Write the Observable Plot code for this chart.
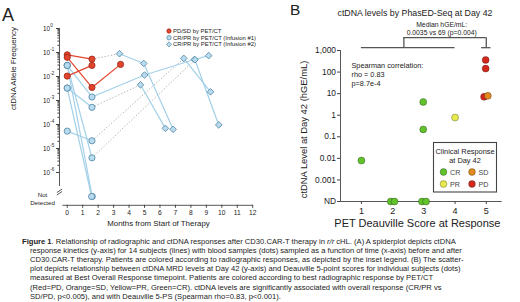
<!DOCTYPE html>
<html>
<head>
<meta charset="utf-8">
<script src="https://cdn.jsdelivr.net/npm/d3@7"></script>
<script src="https://cdn.jsdelivr.net/npm/@observablehq/plot@0.6"></script>
<style>
  html,body{margin:0;padding:0;background:#fff;}
  #fig{position:relative;width:520px;height:302px;overflow:hidden;background:#fff;}
  #fig > svg{position:absolute;}
</style>
</head>
<body>
<div id="fig"></div>
<script>
const FONT = '"Liberation Sans", Arial, Helvetica, sans-serif';

// ---------------- Panel A data ----------------
const ND_A = 1e-7;
const monthTicks = [0,1,2,3,4,5,6,7,8,9,10,11,12];
const afTicks = [1, 1e-1, 1e-2, 1e-3, 1e-4, 1e-5, 1e-6];
const afExponents = ["0","-1","-2","-3","-4","-5","-6"];
const ndLabelA = ["Not", "Detected"];

// infusion #1 (circles)
const inf1Resp = ["PD/SD","PD/SD","PD/SD","CR/PR","CR/PR","CR/PR","CR/PR","CR/PR","CR/PR"];
const inf1Months = [[0,1.6],[0,1.6,3.45],[0,1.6],[0,1.6],[0,1.6],[0,1.6],[0,1.6],[0,1.62],[0,1.58]];
const inf1AF = [
  [0.080, 0.053],
  [0.063, 0.0035, 0.032],
  [0.0104, 0.029],
  [0.029, 0.0014],
  [0.0033, 0.00052],
  [5.3e-5, 2.1e-5],
  [0.029, 4.1e-6],
  [0.029, ND_A],
  [0.0033, ND_A]
];
// infusion #2 (diamonds), each following an infusion #1 series
const inf2After  = [0, 3, 4, 5, 6];
const inf2Bridge = ["dotted","solid","dotted","dotted","dotted"];
const inf2Months = [[3.38,4.95,6.85],[5.0,8.23,9.15],[4.74,6.35],[7.54,9.27],[8.26,9.8]];
const inf2AF = [[0.089,0.035,6.3e-5],[0.0115,0.051,0.074],[0.0045,6.9e-5],[0.057,0.0023],[0.05,9.6e-5]];

const legendA = ["PD/SD by PET/CT","CR/PR by PET/CT (Infusion #1)","CR/PR by PET/CT (Infusion #2)"];

// ---------------- Panel B data ----------------
const ND_B = 1e-4;
const levelTicks  = [1000,100,10,1,0.1,0.01,0.001,ND_B];
const levelLabels = ["1,000","100","10","1","0.1","0.01","0.001","ND"];
const scoreTicks = [1,2,3,4,5];
const ptScore = [1, 1.94, 2.06, 2.94, 3.07, 2.98, 2.98, 4, 4.93, 4.98, 4.98, 5.05];
const ptLevel = [0.0079, ND_B, ND_B, ND_B, ND_B, 4.1, 0.22, 0.78, 7.1, 366, 145, 7.9];
const ptResp  = ["CR","CR","CR","CR","CR","CR","CR","PR","PD","PD","PD","SD"];
const respNames = ["CR","PR","SD","PD"];
const respFill  = ["#62c22c","#e6ea4a","#e08a1f","#d3291c"];
const bracketSpan = [1, 4];
const bracketStem = 2.36;
const bracketEnd = 5;
const bracketCap = [4.85, 5.15];
const bracketLow = 1350, bracketHigh = 3950;
const spearmanLines = ["Spearman correlation:","rho = 0.83","p=8.7e-4"];
const medianLines = ["Median hGE/mL:","0.0035 vs 69 (p=0.004)"];
const yTitleB = "ctDNA Level at Day 42 (hGE/mL)";

const captionLines = [
  "response kinetics (y-axis) for 14 subjects (lines) with blood samples (dots) sampled as a function of time (x-axis) before and after",
  "CD30.CAR-T therapy. Patients are colored according to radiographic responses, as depicted by the inset legend. (B) The scatter-",
  "plot depicts relationship between ctDNA MRD levels at Day 42 (y-axis) and Deauville 5-point scores for individual subjects (dots)",
  "measured at Best Overall Response timepoint. Patients are colored according to best radiographic response by PET/CT",
  "(Red=PD, Orange=SD, Yellow=PR, Green=CR). ctDNA levels are significantly associated with overall response (CR/PR vs",
  "SD/PD, p<0.005), and with Deauville 5-PS (Spearman rho=0.83, p<0.001)."
];

// ---------------- colours ----------------
const RED = "#e2452e", RED_S = "#9a2414";
const BLUE_L = "#a3d0e8", BLUE_F = "#b8dcee", BLUE_S = "#4e83a5";
const GREY_D = "#b4b4b4";
const INK = "#222";

// ---------------- Panel A ----------------
const A_LEFT = -0.5, A_RIGHT = 12.05, A_BOTTOM = 4.3e-8, A_AXIS_TOP_END = 2.6e-7;
const rowsA1 = inf1Months.flatMap((ms,i)=>ms.map((m,j)=>({s:i, month:m, af:inf1AF[i][j], resp:inf1Resp[i]})));
const rowsA2 = inf2Months.flatMap((ms,i)=>ms.map((m,j)=>({s:i, month:m, af:inf2AF[i][j]})));
const bridgesA = inf2After.map((k,i)=>{
  const n = inf1Months[k].length-1;
  return {style:inf2Bridge[i], m1:inf1Months[k][n], a1:inf1AF[k][n], m2:inf2Months[i][0], a2:inf2AF[i][0]};
});
const minorA = [];
for (let e=-6;e<0;e++) for (let m=2;m<10;m++) minorA.push(m*Math.pow(10,e));
const breakMarks = [{y1:1.45e-7, y2:2.05e-7},{y1:1.15e-7, y2:1.62e-7}];

const plotA = Plot.plot({
  width:260, height:237, marginLeft:59, marginRight:7, marginTop:28, marginBottom:32.2,
  x:{domain:[A_LEFT, A_RIGHT]},
  y:{type:"log", domain:[A_BOTTOM, 1]},
  style:{fontFamily:FONT, background:"transparent", color:INK, overflow:"visible"},
  marks:[
    Plot.ruleX([A_LEFT], {x:d=>d, y1:()=>1, y2:()=>A_AXIS_TOP_END, stroke:"#444", strokeWidth:0.9}),
    Plot.link(breakMarks, {x1:()=>A_LEFT-0.17, x2:()=>A_LEFT+0.17, y1:"y1", y2:"y2", stroke:"#444", strokeWidth:0.9}),
    Plot.axisY({ticks:afTicks, tickSize:3, tickFormat:()=>"", label:null, stroke:"#444"}),
    Plot.axisY({ticks:minorA, tickSize:1.6, tickFormat:()=>"", label:null, stroke:"#444"}),
    Plot.text(afTicks, {x:()=>A_LEFT, y:d=>d, text:()=>"10", textAnchor:"end", dx:-9.5, fontSize:6.4, fill:INK}),
    Plot.text(afTicks, {x:()=>A_LEFT, y:d=>d, text:(d,i)=>afExponents[i], textAnchor:"start", dx:-9.2, dy:-2.7, fontSize:4.5, fill:INK}),
    Plot.text([ndLabelA.join("\n")], {x:()=>A_LEFT, y:()=>ND_A, textAnchor:"middle", dx:-17, dy:2, fontSize:6.2, lineHeight:1.35, fill:INK}),
    Plot.ruleY([A_BOTTOM], {y:d=>d, x1:()=>-0.28, x2:()=>A_RIGHT, stroke:"#444", strokeWidth:0.9}),
    Plot.axisX({ticks:monthTicks, tickFormat:d=>String(d), tickSize:3, tickPadding:2, fontSize:6.7, label:null, stroke:"#444"}),
    Plot.text(["Months from Start of Therapy"], {frameAnchor:"bottom", dy:21, dx:2, fontSize:7.9, fill:INK}),
    Plot.text(["ctDNA Allele Frequency"], {frameAnchor:"left", rotate:-90, dx:-46, dy:-7, fontSize:7.9, fill:INK}),
    Plot.link(bridgesA.filter(d=>d.style==="dotted"), {x1:"m1", y1:"a1", x2:"m2", y2:"a2", stroke:GREY_D, strokeWidth:1, strokeDasharray:"1.4,1.8"}),
    Plot.link(bridgesA.filter(d=>d.style==="solid"), {x1:"m1", y1:"a1", x2:"m2", y2:"a2", stroke:BLUE_L, strokeWidth:1.2}),
    Plot.line(rowsA2, {x:"month", y:"af", z:"s", stroke:BLUE_L, strokeWidth:1.2}),
    Plot.line(rowsA1.filter(d=>d.resp!=="PD/SD"), {x:"month", y:"af", z:"s", stroke:BLUE_L, strokeWidth:1.2}),
    Plot.line(rowsA1.filter(d=>d.resp==="PD/SD"), {x:"month", y:"af", z:"s", stroke:RED, strokeWidth:1.2}),
    Plot.dot(rowsA2, {x:"month", y:"af", symbol:"diamond2", r:3, fill:BLUE_F, stroke:BLUE_S, strokeWidth:0.8}),
    Plot.dot(rowsA1.filter(d=>d.resp!=="PD/SD"), {x:"month", y:"af", r:3.1, fill:BLUE_F, stroke:BLUE_S, strokeWidth:0.8}),
    Plot.dot(rowsA1.filter(d=>d.resp==="PD/SD"), {x:"month", y:"af", r:3.1, fill:RED, stroke:RED_S, strokeWidth:0.8})
  ]
});

// ---------------- Panel B ----------------
const B_LEFT = 0.33, B_RIGHT = 5.51;
const rowsB = ptScore.map((s,i)=>({score:s, level:ptLevel[i], resp:ptResp[i]}));
const plotB = Plot.plot({
  width:260, height:237, marginLeft:80, marginRight:18.3, marginTop:50, marginBottom:36,
  x:{domain:[B_LEFT, B_RIGHT]},
  y:{type:"log", domain:[ND_B, 1000]},
  color:{domain:respNames, range:respFill},
  style:{fontFamily:FONT, background:"transparent", color:INK, overflow:"visible"},
  marks:[
    Plot.ruleX([B_LEFT], {x:d=>d, y1:()=>ND_B, y2:()=>1000, stroke:"#444", strokeWidth:0.9}),
    Plot.ruleY([ND_B], {y:d=>d, x1:()=>B_LEFT, x2:()=>B_RIGHT, stroke:"#444", strokeWidth:0.9}),
    Plot.axisY({ticks:levelTicks, tickFormat:d=>levelLabels[levelTicks.indexOf(d)], tickSize:3, tickPadding:1.5, fontSize:8.4, label:null, stroke:"#444"}),
    Plot.axisX({ticks:scoreTicks, tickFormat:d=>String(d), tickSize:3, tickPadding:3, fontSize:9, label:null, stroke:"#444"}),
    Plot.text(["PET Deauville Score at Response"], {frameAnchor:"bottom", dy:25, dx:-4, fontSize:11, fill:INK}),
    Plot.ruleY([bracketLow], {y:d=>d, x1:()=>bracketSpan[0], x2:()=>bracketSpan[1], stroke:"#555", strokeWidth:1.3}),
    Plot.ruleX([bracketStem], {x:d=>d, y1:()=>bracketLow, y2:()=>bracketHigh, stroke:"#555", strokeWidth:1.3}),
    Plot.ruleY([bracketHigh], {y:d=>d, x1:()=>bracketStem, x2:()=>bracketEnd, stroke:"#555", strokeWidth:1.3}),
    Plot.ruleX([bracketEnd], {x:d=>d, y1:()=>bracketLow, y2:()=>bracketHigh, stroke:"#555", strokeWidth:1.3}),
    Plot.ruleY([bracketLow], {y:d=>d, x1:()=>bracketCap[0], x2:()=>bracketCap[1], stroke:"#555", strokeWidth:1.3}),
    Plot.dot(rowsB, {x:"score", y:"level", r:3.5, fill:"resp", stroke:"rgba(0,0,0,0.35)", strokeWidth:0.8})
  ]
});

const fig = document.getElementById("fig");
plotA.style.left = "0px"; plotA.style.top = "0px";
plotB.style.left = "260px"; plotB.style.top = "0px";
fig.appendChild(plotA);
fig.appendChild(plotB);

// ---------------- overlay: labels, legends, caption ----------------
const ov = d3.select(fig).append("svg")
  .attr("width",520).attr("height",302)
  .style("left","0px").style("top","0px")
  .attr("font-family", FONT).attr("fill", INK);

function txt(x, y, s, size, anchor="start", weight="normal") {
  return ov.append("text").attr("x",x).attr("y",y).attr("font-size",size)
    .attr("text-anchor",anchor).attr("font-weight",weight).text(s);
}

txt(2, 20.5, "A", 18);
txt(290, 14.5, "B", 15.5);
txt(415, 16, "ctDNA levels by PhasED-Seq at Day 42", 8.8, "middle");
medianLines.forEach((s,i)=>txt(441.7, 26.5 + i*8.5, s, 6.8, "middle"));
spearmanLines.forEach((s,i)=>txt(351.5, 67.5 + i*9, s, 7.3));

// y title of panel B
ov.append("text").attr("transform","translate(304,129.5) rotate(-90)")
  .attr("text-anchor","middle").attr("dy","0.32em").attr("font-size",9.4).text(yTitleB);

// legend A
const symY = [31, 37.7, 44.4];
ov.append("circle").attr("cx",169).attr("cy",symY[0]).attr("r",2.2).attr("fill",RED).attr("stroke",RED_S).attr("stroke-width",0.7);
ov.append("circle").attr("cx",169).attr("cy",symY[1]).attr("r",2.2).attr("fill",BLUE_F).attr("stroke",BLUE_S).attr("stroke-width",0.7);
ov.append("path").attr("d",d3.symbol(d3.symbolDiamond2, 17)()).attr("transform",`translate(169,${symY[2]})`).attr("fill",BLUE_F).attr("stroke",BLUE_S).attr("stroke-width",0.7);
legendA.forEach((s,i)=>txt(173, symY[i]+2, s, 5.9));

// legend B
ov.append("rect").attr("x",433.5).attr("y",142.5).attr("width",63).attr("height",49.5)
  .attr("fill","#fff").attr("stroke","#444").attr("stroke-width",1.1);
txt(465, 153.5, "Clinical Response", 7.4, "middle");
txt(465, 163, "at Day 42", 7.4, "middle");
const legPos = {CR:[443.5,172], SD:[472,172], PR:[443.5,184], PD:[472,184]};
respNames.forEach((r,i)=>{
  const [cx,cy] = legPos[r];
  ov.append("circle").attr("cx",cx).attr("cy",cy).attr("r",3.4).attr("fill",respFill[i]).attr("stroke","rgba(0,0,0,0.35)").attr("stroke-width",0.8);
  txt(cx+6.5, cy+2.6, r, 7.2).attr("fill","#444");
});

// caption
const CAP = 7.6, capY0 = 243.6, capDY = 9.2;
const l1 = ov.append("text").attr("x",22).attr("y",capY0).attr("font-size",CAP);
l1.append("tspan").attr("font-weight","bold").text("Figure 1");
l1.append("tspan").text(". Relationship of radiographic and ctDNA responses after CD30.CAR-T therapy in ");
l1.append("tspan").attr("font-style","italic").text("r/r");
l1.append("tspan").text(" cHL. (A) A spiderplot depicts ctDNA");
captionLines.forEach((s,i)=>txt(30, capY0 + (i+1)*capDY, s, CAP));
</script>
</body>
</html>
